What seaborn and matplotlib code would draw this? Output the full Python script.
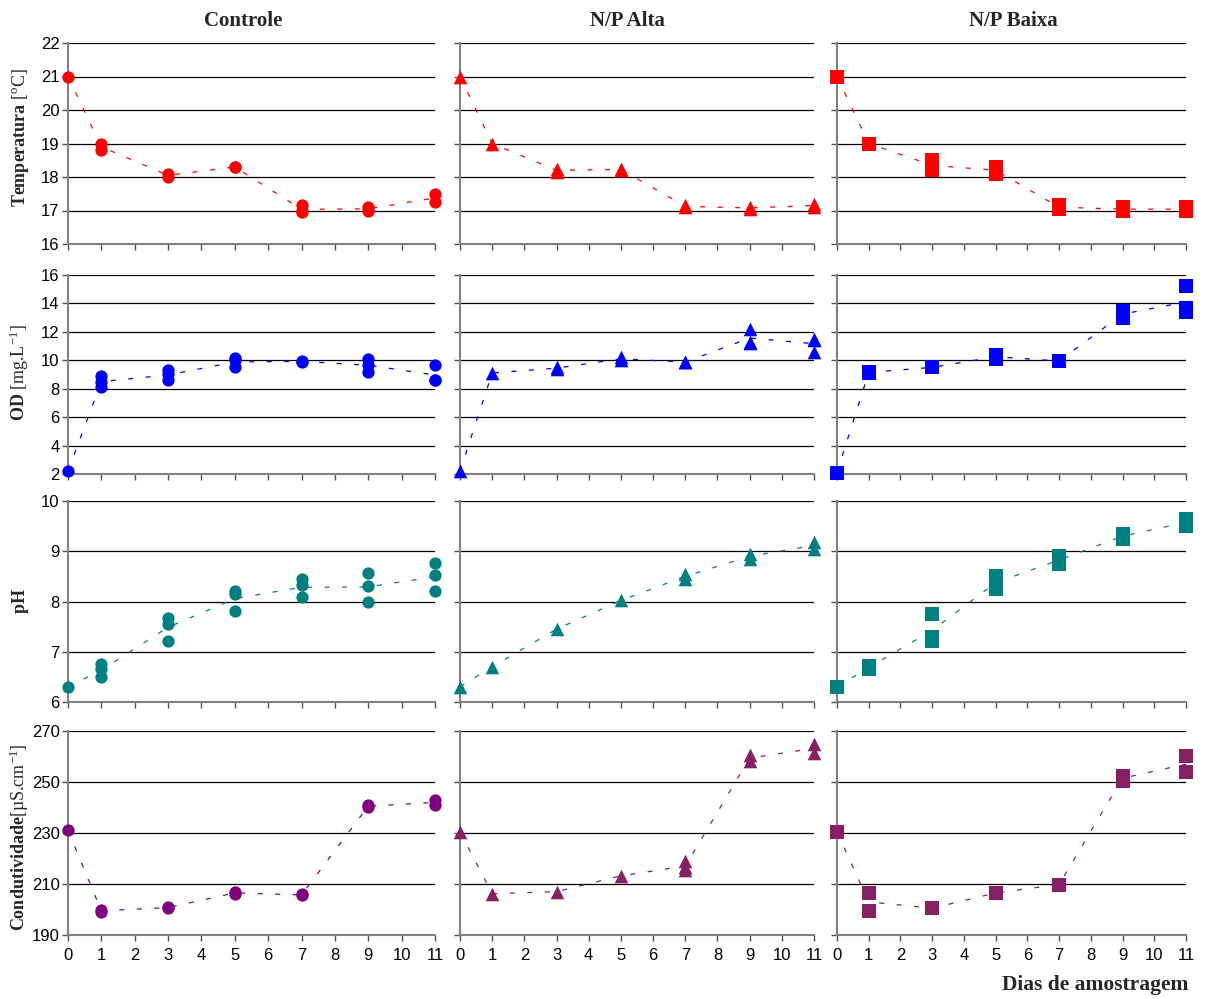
import matplotlib
matplotlib.use("Agg")
import matplotlib.pyplot as plt
import pandas as pd
import seaborn as sns

# Sampling days and replicate readings per treatment
days = [0, 1, 3, 5, 7, 9, 11]
treatments = ["Controle", "N/P Alta", "N/P Baixa"]

temp_controle = [[21.0], [19.0, 18.8], [18.1, 18.0], [18.3, 18.3], [17.15, 17.0, 16.95], [17.1, 17.0], [17.5, 17.25]]
temp_alta = [[21.0], [19.0], [18.25, 18.15], [18.25, 18.2], [17.15, 17.1], [17.1, 17.05], [17.2, 17.1]]
temp_baixa = [[21.0], [19.0], [18.5, 18.2], [18.3, 18.1], [17.15, 17.05], [17.1, 16.98], [17.1, 16.98]]

od_controle = [[2.2], [8.9, 8.5, 8.1], [9.3, 9.0, 8.6], [10.15, 10.0, 9.5], [9.95, 9.9], [10.1, 9.65, 9.2], [9.7, 8.6, 8.6]]
od_alta = [[2.2], [9.1], [9.5, 9.4], [10.2, 10.0], [9.9, 9.85], [12.2, 11.3, 11.2], [11.5, 11.4, 10.6]]
od_baixa = [[2.1], [9.2, 9.1], [9.5], [10.4, 10.1], [9.95], [13.5, 13.0], [15.2, 13.7, 13.4]]

ph_controle = [[6.3], [6.75, 6.65, 6.5], [7.68, 7.56, 7.22], [8.2, 8.15, 7.82], [8.44, 8.32, 8.09], [8.56, 8.31, 8.0], [8.76, 8.52, 8.2]]
ph_alta = [[6.3], [6.7], [7.45], [8.02], [8.55, 8.45], [8.95, 8.85], [9.18, 9.05]]
ph_baixa = [[6.3], [6.72, 6.65], [7.76, 7.3, 7.22], [8.5, 8.25], [8.9, 8.75], [9.35, 9.25], [9.65, 9.5]]

cond_controle = [[231.0], [200.0, 199.0], [201.0, 200.5], [207.0, 206.0], [206.0, 205.5], [241.0, 240.0], [243.0, 241.0]]
cond_alta = [[230.5], [206.2], [207.0], [213.2], [219.0, 216.5, 215.5], [260.5, 258.2], [265.0, 261.4]]
cond_baixa = [[230.5], [206.5, 199.5], [200.5], [206.5], [209.8], [252.5, 250.5], [260.0, 254.0]]

y_labels = [
    r"$\mathbf{Temperatura}$ [$^{\mathrm{o}}$C]",
    r"$\mathbf{OD}$ [mg.L$^{\mathrm{-1}}$]",
    r"$\mathbf{pH}$",
    r"$\mathbf{Condutividade}$[µS.cm$^{\mathrm{-1}}$]",
]
y_ticks = [
    [16, 17, 18, 19, 20, 21, 22],
    [2, 4, 6, 8, 10, 12, 14, 16],
    [6, 7, 8, 9, 10],
    [190, 210, 230, 250, 270],
]
x_ticks = list(range(12))

panels = [
    [temp_controle, temp_alta, temp_baixa],
    [od_controle, od_alta, od_baixa],
    [ph_controle, ph_alta, ph_baixa],
    [cond_controle, cond_alta, cond_baixa],
]
row_colors = [
    ["#FF0000"] * 3,
    ["#0000FF"] * 3,
    ["#008080"] * 3,
    ["#800080", "#862062", "#862062"],
]
markers = ["o", "^", "s"]
marker_sizes = [78, 96, 90]

sns.set_theme(style="white")
plt.rcParams.update({
    "font.family": ["Liberation Sans", "DejaVu Sans"],
    "mathtext.fontset": "custom",
    "mathtext.rm": "Liberation Serif",
    "mathtext.bf": "Liberation Serif:bold",
    "mathtext.it": "Liberation Serif:italic",
    "axes.unicode_minus": False,
})

W, H = 1208, 999
fig = plt.figure(figsize=(W / 100, H / 100), dpi=100)

col_px = [(68, 435), (460, 814), (837, 1186)]
row_px = [(43, 244), (275, 474), (501, 702), (731, 935)]
label_y = [0.53, 0.51, 0.5, 0.48]


def long_frame(readings):
    rows = [(d, v) for d, vals in zip(days, readings) for v in vals]
    return pd.DataFrame(rows, columns=["dia", "valor"])


for r in range(4):
    for c in range(3):
        x0, x1 = col_px[c]
        y0, y1 = row_px[r]
        ax = fig.add_axes([x0 / W, 1 - y1 / H, (x1 - x0) / W, (y1 - y0) / H])
        df = long_frame(panels[r][c])
        color = row_colors[r][c]

        # dashed line through the daily means, markers for each replicate
        sns.lineplot(data=df, x="dia", y="valor", estimator="mean", errorbar=None,
                     color=color, lw=0.9, linestyle=(0, (4, 10)), ax=ax, zorder=2)
        sns.scatterplot(data=df, x="dia", y="valor", marker=markers[c], s=marker_sizes[c],
                        color=color, edgecolor=color, linewidth=0, ax=ax, zorder=3,
                        clip_on=False)

        ax.set_xlim(0, 11)
        ax.set_ylim(y_ticks[r][0], y_ticks[r][-1])
        ax.set_xticks(x_ticks)
        ax.set_yticks(y_ticks[r])
        ax.yaxis.grid(True, color="black", lw=0.9)
        ax.xaxis.grid(False)
        ax.set_axisbelow(True)
        for s in ["top", "right"]:
            ax.spines[s].set_visible(False)
        for s in ["left", "bottom"]:
            ax.spines[s].set_color("#808080")
            ax.spines[s].set_linewidth(1.5)
        ax.tick_params(axis="both", direction="out", length=4, width=1, color="#505050",
                       labelsize=12, labelcolor="black", bottom=True, left=True)
        ax.tick_params(axis="x", pad=5)
        ax.tick_params(axis="y", pad=2)
        ax.tick_params(labelbottom=(r == 3), labelleft=(c == 0))
        ax.set_xlabel("")
        ax.set_ylabel("")
        if c == 0:
            ax.set_ylabel(y_labels[r], fontsize=13, family="Liberation Serif")
            ax.yaxis.set_label_coords(-0.10, label_y[r])

title_x = [243, 627, 1013]
for tx, name in zip(title_x, treatments):
    fig.text(tx / W, 1 - 21 / H, name, ha="center", va="center", fontsize=15,
             fontweight="bold", family="Liberation Serif")

fig.text(1188 / W, 1 - 985 / H, "Dias de amostragem", ha="right", va="center",
         fontsize=15.5, fontweight="bold", family="Liberation Serif")

fig.savefig("out.png", dpi=100)
